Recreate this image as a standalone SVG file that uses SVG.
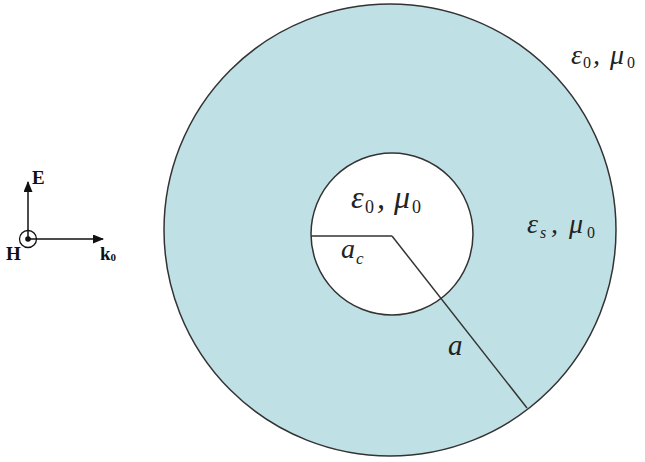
<svg xmlns="http://www.w3.org/2000/svg" width="645" height="462" viewBox="0 0 645 462">
<defs>
<style>
.ln{stroke:#333;stroke-width:1.5;fill:none}
.lab{font-family:"Liberation Serif",serif;font-style:italic;fill:#222}
.sub{font-style:normal}
.ax{font-family:"Liberation Serif",serif;font-weight:bold;font-size:19px;fill:#111}
</style>
<marker id="ah" markerWidth="11" markerHeight="9" refX="10" refY="4.5" orient="auto" markerUnits="userSpaceOnUse">
<path d="M0,0 L11,4.5 L0,9 Z" fill="#111"/>
</marker>
</defs>
<rect width="645" height="462" fill="#fff"/>
<g id="outer">
<circle cx="390" cy="230" r="226" fill="#bfe1e5" stroke="#333" stroke-width="1.5"/>
</g>
<g id="inner">
<circle cx="392" cy="234" r="81" fill="#fff" stroke="#333" stroke-width="1.5"/>
</g>
<g id="connectors">
<line class="ln" x1="311" y1="236" x2="392" y2="236"/>
<line class="ln" x1="392" y1="236" x2="527" y2="408"/>
<line x1="28" y1="239" x2="28" y2="182" stroke="#111" stroke-width="1.5" marker-end="url(#ah)"/>
<line x1="28" y1="239" x2="103" y2="239" stroke="#111" stroke-width="1.5" marker-end="url(#ah)"/>
</g>
<g id="axes">
<circle cx="28" cy="239" r="8.5" fill="none" stroke="#111" stroke-width="1.3"/>
<circle cx="28" cy="239" r="2.8" fill="#111"/>
<text class="ax" x="32" y="184">E</text>
<text class="ax" x="6" y="260">H</text>
<text class="ax" x="100" y="260">k<tspan font-size="11" dy="1">0</tspan></text>
</g>
<g id="labels">
<text class="lab" style="font-size:28px" y="64"><tspan x="571">ε</tspan><tspan class="sub" x="583" dy="4" style="font-size:16px">0</tspan><tspan x="593" dy="-4">,</tspan><tspan x="610">μ</tspan><tspan class="sub" x="627" dy="4" style="font-size:16px">0</tspan></text>
<text class="lab" style="font-size:32px" y="208"><tspan x="351">ε</tspan><tspan class="sub" x="365" dy="5" style="font-size:18px">0</tspan><tspan x="377" dy="-5">,</tspan><tspan x="394">μ</tspan><tspan class="sub" x="412" dy="5" style="font-size:18px">0</tspan></text>
<text class="lab" style="font-size:28px" y="233"><tspan x="527">ε</tspan><tspan x="540" dy="5" style="font-size:16px">s</tspan><tspan x="551" dy="-5">,</tspan><tspan x="569">μ</tspan><tspan class="sub" x="587" dy="5" style="font-size:16px">0</tspan></text>
<text class="lab" style="font-size:28px" x="341" y="258">a<tspan x="356" dy="6" style="font-size:17px">c</tspan></text>
<text class="lab" style="font-size:29px" x="448" y="355">a</text>
</g>
</svg>
